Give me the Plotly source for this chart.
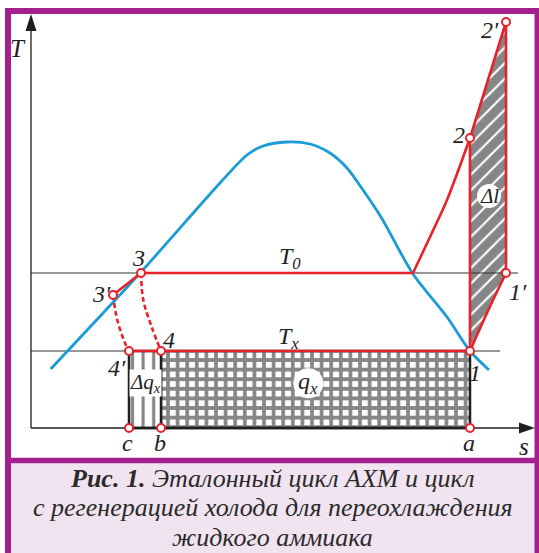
import plotly.graph_objects as go

W, H = 539, 553

# ---- cycle data in (s, T) coordinates, arbitrary units ----
T0 = 15.5   # condensing temperature
TX = 7.7    # evaporating temperature

state_names = ["1", "1′", "2", "2′", "3", "3′", "4", "4′"]
state_s = [43.9, 47.5, 43.9, 47.5, 11.0, 8.2, 13.0, 9.8]
state_T = [7.7, 15.5, 29.0, 40.6, 15.5, 13.3, 7.7, 7.7]

foot_names = ["c", "b", "a"]
foot_s = [9.8, 13.0, 43.9]

# saturation dome
dome_s = [1.97, 11.0, 18.9, 21.6, 23.2, 25.6, 27.9, 29.9, 31.6, 33.2, 35.0, 38.2, 41.6, 43.9, 45.8]
dome_T = [5.9, 15.6, 24.5, 27.3, 28.2, 28.6, 28.4, 27.5, 26.0, 23.8, 21.1, 15.4, 11.1, 7.7, 5.8]

# condensing isobar in the superheated region (dome crossing -> 2)
isobar_s = [38.2, 39.9, 41.6, 43.9]
isobar_T = [15.5, 19.1, 22.8, 29.0]

# regenerative heating of vapour 1 -> 1'
regen_s = [43.9, 45.6, 47.5]
regen_T = [7.7, 11.5, 15.5]

# throttling 3 -> 4 and 3' -> 4'
thr_s = [11.0, 11.23, 12.07, 13.0]
thr_T = [15.5, 12.8, 10.1, 7.7]
thr2_s = [8.2, 8.63, 9.4, 9.8]
thr2_T = [13.3, 10.8, 8.5, 7.7]

caption_lines = [
    "<b><i>Рис. 1.</i></b><i> Эталонный цикл АХМ и цикл</i>",
    "<i>с регенерацией холода для переохлаждения</i>",
    "<i>жидкого аммиака</i>",
]

# axis extents
S_MAX = 50.4
T_MAX = 41.4
T0_LINE_END = 48.7
TX_LINE_END = 46.9

RED = "#e8212b"
BLUE = "#1b9bd7"
INK = "#222222"
PURPLE = "#a4218d"
LAVENDER = "#f1e4f0"
SERIF = "Liberation Serif, DejaVu Serif, serif"

st = dict(zip(state_names, zip(state_s, state_T)))
s1, t1 = st["1"]
s1p, t1p = st["1′"]
s2, t2 = st["2"]
s2p, t2p = st["2′"]
s3, t3 = st["3"]
s3p, t3p = st["3′"]
s4p, t4p = st["4′"]
sc, sb, sa = foot_s

fig = go.Figure()

# refrigerating effect q_x: area under the evaporation line b..a
fig.add_trace(go.Scatter(
    x=[sb, sa, sa, sb, sb], y=[0, 0, TX, TX, 0], mode="lines",
    fill="toself", fillcolor="white",
    fillpattern=dict(shape="+", fgcolor="#0d0d0d", bgcolor="white", size=9.6, solidity=0.62),
    line=dict(color="#1e1e1e", width=2.5), hoverinfo="skip"))

# extra refrigerating effect from liquid subcooling: c..b
fig.add_trace(go.Scatter(
    x=[sc, sb, sb, sc, sc], y=[0, 0, TX, TX, 0], mode="lines",
    fill="toself", fillcolor="white",
    fillpattern=dict(shape="|", fgcolor="#0d0d0d", bgcolor="white", size=10.6, solidity=0.3),
    line=dict(color="#1e1e1e", width=2.5), hoverinfo="skip"))

# additional compression work Δl
fig.add_trace(go.Scatter(
    x=regen_s + [s2p, s2, s1], y=regen_T + [t2p, t2, t1], mode="lines",
    fill="toself", fillcolor="white",
    fillpattern=dict(shape="/", fgcolor="#0d0d0d", bgcolor="white", size=11, solidity=0.8),
    line=dict(width=0), hoverinfo="skip"))

# isotherm guide lines
fig.add_trace(go.Scatter(x=[0, T0_LINE_END], y=[T0, T0], mode="lines",
                         line=dict(color="#333333", width=1.2), hoverinfo="skip"))
fig.add_trace(go.Scatter(x=[0, TX_LINE_END], y=[TX, TX], mode="lines",
                         line=dict(color="#333333", width=1.2), hoverinfo="skip"))

# axes with filled arrowheads
HEAD_LEN_S, HEAD_HALF_T = 1.6, 0.55   # s-axis head: length in s, half width in T
HEAD_LEN_T, HEAD_HALF_S = 1.7, 0.55   # T-axis head
fig.add_trace(go.Scatter(x=[0, 0, None, 0, S_MAX - HEAD_LEN_S], y=[T_MAX - HEAD_LEN_T, 0, None, 0, 0],
                         mode="lines", line=dict(color="#1e1e1e", width=1.3), hoverinfo="skip"))
fig.add_trace(go.Scatter(
    x=[S_MAX, S_MAX - HEAD_LEN_S, S_MAX - HEAD_LEN_S, S_MAX],
    y=[0, HEAD_HALF_T, -HEAD_HALF_T, 0],
    mode="lines", fill="toself", fillcolor="#1e1e1e", line=dict(width=0), hoverinfo="skip"))
fig.add_trace(go.Scatter(
    x=[0, -HEAD_HALF_S, HEAD_HALF_S, 0],
    y=[T_MAX, T_MAX - HEAD_LEN_T, T_MAX - HEAD_LEN_T, T_MAX],
    mode="lines", fill="toself", fillcolor="#1e1e1e", line=dict(width=0), hoverinfo="skip"))
fig.add_trace(go.Scatter(x=[sc, sa], y=[0, 0], mode="lines",
                         line=dict(color="#1e1e1e", width=2.5), hoverinfo="skip"))

# saturation curve
fig.add_trace(go.Scatter(x=dome_s, y=dome_T, mode="lines",
                         line=dict(color=BLUE, width=2.8, shape="spline", smoothing=0.8),
                         hoverinfo="skip"))

# cycle lines
red = dict(color=RED, width=2.6)
fig.add_trace(go.Scatter(x=[s4p, s1, s1, None, s1p, s2p, s2], y=[t4p, t1, t2, None, t1p, t2p, t2],
                         mode="lines", line=red, hoverinfo="skip"))
fig.add_trace(go.Scatter(x=[s3p, s3, isobar_s[0]], y=[t3p, t3, isobar_T[0]],
                         mode="lines", line=red, hoverinfo="skip"))
fig.add_trace(go.Scatter(x=isobar_s, y=isobar_T, mode="lines",
                         line=dict(color=RED, width=2.6, shape="spline", smoothing=0.8),
                         hoverinfo="skip"))
fig.add_trace(go.Scatter(x=regen_s, y=regen_T, mode="lines",
                         line=dict(color=RED, width=2.6, shape="spline"), hoverinfo="skip"))
for xs, ys in ((thr_s, thr_T), (thr2_s, thr2_T)):
    fig.add_trace(go.Scatter(x=xs, y=ys, mode="lines",
                             line=dict(color=RED, width=2.6, dash="5px,3px", shape="spline"),
                             hoverinfo="skip"))

# state points
fig.add_trace(go.Scatter(x=state_s + foot_s, y=state_T + [0] * len(foot_s), mode="markers",
                         marker=dict(symbol="circle", size=8, color="white",
                                     line=dict(color=RED, width=2)),
                         hoverinfo="skip"))

# ---- frame and caption panel ----
def px(x):
    return x / W

def py(y):
    return 1 - y / H

shapes = [
    dict(type="rect", xref="paper", yref="paper", x0=px(5), x1=px(539), y0=py(553), y1=py(8),
         fillcolor=PURPLE, line_width=0, layer="below"),
    dict(type="rect", xref="paper", yref="paper", x0=px(11), x1=px(534.5), y0=py(457.7), y1=py(14),
         fillcolor="white", line_width=0, layer="below"),
    dict(type="rect", xref="paper", yref="paper", x0=px(11), x1=px(534.5), y0=py(553), y1=py(463.3),
         fillcolor=LAVENDER, line_width=0, layer="below"),
    # white patches behind area labels
    dict(type="circle", xref="x", yref="y", x0=27.73 - 1.5, x1=27.73 + 1.5, y0=4.47 - 1.5, y1=4.47 + 1.5,
         fillcolor="white", line_width=0, layer="above"),
    dict(type="circle", xref="x", yref="y", x0=45.8 - 1.2, x1=45.8 + 1.2, y0=23.2 - 1.2, y1=23.2 + 1.2,
         fillcolor="white", line_width=0, layer="above"),
]

def lab(text, x, y, size=24, bg=None):
    d = dict(text=f"<i>{text}</i>", x=x, y=y, xref="x", yref="y", showarrow=False,
             font=dict(family=SERIF, size=size, color=INK), xanchor="center", yanchor="middle")
    if bg:
        d.update(bgcolor=bg, borderpad=0)
    return d

label_pos = {
    "1": (44.4, 5.5), "1′": (48.7, 13.6), "2": (42.8, 29.3), "2′": (45.9, 39.8),
    "3": (10.7, 17.0), "3′": (7.0, 13.4), "4": (13.8, 8.8), "4′": (8.6, 6.0),
}
annotations = [lab(n, *label_pos[n]) for n in state_names]
annotations += [lab(n, s - 0.15, -1.5) for n, s in zip(foot_names, foot_s)]
annotations += [
    lab("T", -1.3, 38.0, size=25),
    lab("s", 49.3, -1.8, size=25),
    lab("T<sub>0</sub>", 25.9, 17.0),
    lab("T<sub>x</sub>", 25.7, 9.0),
    lab("q<sub>x</sub>", 27.7, 4.5),
    lab("Δq<sub>x</sub>", 11.4, 4.5, size=21, bg="white"),
    lab("Δl", 45.8, 23.2, size=21),
]
for line, ypix in zip(caption_lines, (478, 507.5, 537)):
    annotations.append(dict(text=line, x=px(272.5), y=py(ypix), xref="paper", yref="paper",
                            showarrow=False, font=dict(family=SERIF, size=26, color="#2a2a2a"),
                            xanchor="center", yanchor="middle"))

fig.update_layout(
    width=W, height=H, margin=dict(l=0, r=0, t=0, b=0),
    paper_bgcolor="white", plot_bgcolor="rgba(0,0,0,0)",
    font=dict(family=SERIF),
    showlegend=False, shapes=shapes, annotations=annotations,
    xaxis=dict(range=[-3.1, 50.8], visible=False, fixedrange=True),
    yaxis=dict(range=[-12.5, 42.8], visible=False, fixedrange=True),
)

fig.write_html("out.html")
